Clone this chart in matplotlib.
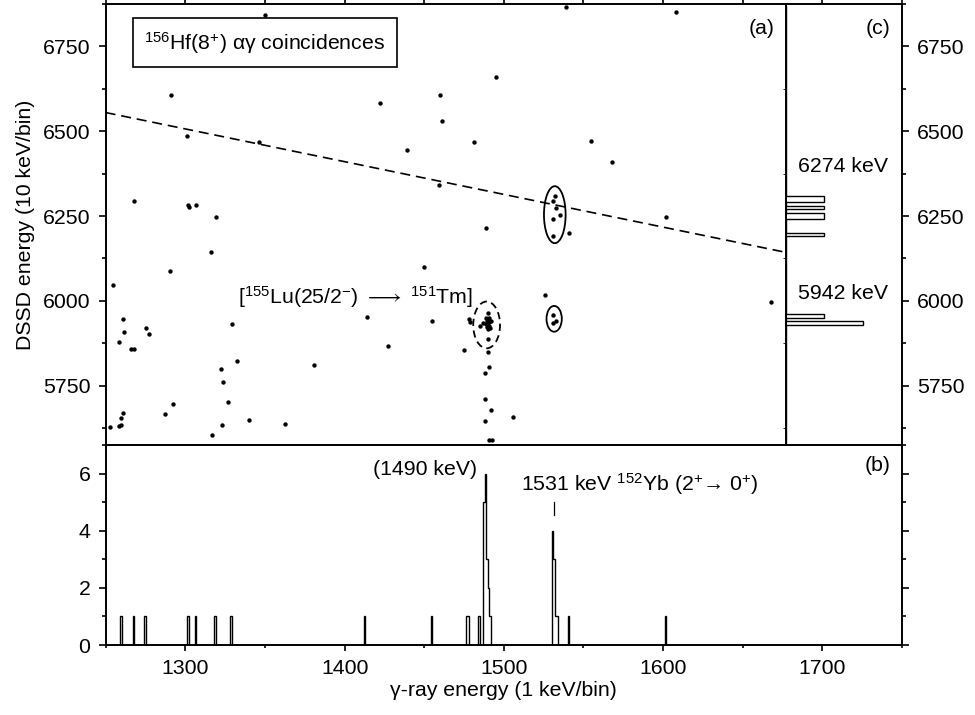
import numpy as np
import matplotlib
matplotlib.use("Agg")
import matplotlib.pyplot as plt
from matplotlib.patches import Ellipse
from matplotlib.ticker import MultipleLocator

plt.rcParams['font.family'] = ['Liberation Sans', 'DejaVu Sans']
plt.rcParams['mathtext.fontset'] = 'custom'
plt.rcParams['mathtext.rm'] = 'Liberation Sans'
plt.rcParams['mathtext.it'] = 'Liberation Sans:italic'
plt.rcParams['mathtext.bf'] = 'Liberation Sans:bold'
plt.rcParams['font.size'] = 15.3
plt.rcParams['axes.linewidth'] = 1.4

# alpha-gamma coincidences: gamma-ray energy (keV) vs DSSD energy (keV)
gamma_e = [1350, 1539, 1608, 1291, 1301, 1346, 1422, 1460, 1461, 1439,
           1481, 1459, 1495, 1555, 1568, 1268, 1301.5, 1302.5, 1307, 1319,
           1489, 1602,
           1532, 1531, 1533, 1535, 1531, 1531, 1541,
           1526, 1668, 1531, 1533, 1531,
           1450, 1455, 1414, 1427, 1475, 1478, 1478.5, 1485,
           1489, 1490, 1491, 1489.5, 1490.5, 1492, 1489, 1490, 1491, 1489.5,
           1491.5, 1490, 1487,
           1490, 1490, 1490, 1490.4, 1488.3, 1488, 1492, 1488, 1490.6, 1492.3,
           1505.5,
           1254.6, 1316, 1290.4, 1260.7, 1261.7, 1258.3, 1265.7, 1267.6, 1275, 1277,
           1329.5, 1332.4, 1322.6, 1323.8, 1326.6, 1381, 1292.4, 1287, 1340, 1362.7,
           1323, 1316.7, 1252.7, 1258.3, 1259.6, 1259.4, 1260.7]
dssd_e = [6844, 6865, 6851, 6607, 6486, 6469, 6582, 6607, 6529, 6445,
          6468, 6342, 6660, 6471, 6410, 6294, 6283, 6277, 6283, 6247,
          6216, 6247,
          6308, 6294, 6273, 6253, 6240, 6192, 6201,
          6017, 5998, 5958, 5940, 5934,
          6099, 5940, 5952, 5867, 5856, 5947, 5939, 5926,
          5950, 5945, 5948, 5940, 5938, 5942, 5932, 5930, 5925, 5922,
          5920, 5918, 5934,
          5964, 5887, 5848, 5805, 5786, 5710, 5679, 5645, 5589, 5589,
          5657,
          6046, 6143, 6089, 5947, 5909, 5878, 5858, 5858, 5919, 5902,
          5931, 5824, 5799, 5762, 5703, 5810, 5695, 5665, 5650, 5636,
          5633, 5605, 5627, 5630, 5633, 5656, 5670]

# (b) gamma-ray projection, 1 keV bins
b_bins = [1259, 1267, 1274, 1301, 1306, 1318, 1328, 1412, 1454, 1476, 1477,
          1484, 1487, 1488, 1489, 1490, 1491, 1530, 1531, 1532, 1533, 1540, 1601]
b_counts = [1, 1, 1, 1, 1, 1, 1, 1, 1, 1, 1,
            1, 5, 6, 3, 2, 1, 4, 3, 1, 1, 1, 1]

# (c) DSSD projection gated on 1531 keV, 10 keV bins
c_bins = [5930, 5950, 6190, 6240, 6250, 6270, 6290, 6300]
c_counts = [2, 1, 1, 1, 1, 1, 1, 1]

# dashed cut line
cut_x = [1250, 1677]
cut_y = [6555, 6143]

fig = plt.figure(figsize=(9.75, 7.15), dpi=100)
ax = fig.add_axes([0.1084, 0.3776, 0.8167, 0.6168])
axb = fig.add_axes([0.1084, 0.0979, 0.8167, 0.2797])
axc = fig.add_axes([0.8062, 0.3776, 0.1189, 0.6168], sharey=ax)

# --- (a) scatter ---
ax.scatter(gamma_e, dssd_e, s=10, c='k', linewidths=0, zorder=3)
ax.plot(cut_x, cut_y, color='k', lw=1.2, ls=(0, (6, 3.5)))
ax.add_patch(Ellipse((1532, 6254), 13.6, 168, fill=False, lw=1.3, ec='k'))
ax.add_patch(Ellipse((1531.6, 5947), 9.6, 76, fill=False, lw=1.3, ec='k'))
ax.add_patch(Ellipse((1489.2, 5929), 16.8, 138, fill=False, lw=1.3, ec='k',
                     ls=(0, (4, 2.5))))
ax.axvline(1677, color='k', lw=1.4)

ax.set_xlim(1250, 1750)
ax.set_ylim(5575, 6875)
ax.yaxis.set_major_locator(MultipleLocator(250))
ax.yaxis.set_minor_locator(MultipleLocator(125))
ax.xaxis.set_major_locator(MultipleLocator(100))
ax.xaxis.set_minor_locator(MultipleLocator(50))
ax.tick_params(axis='y', which='both', direction='out', left=True, right=True,
               labelleft=True, labelright=True, width=1.2)
ax.tick_params(axis='y', which='major', length=5, pad=6)
ax.tick_params(axis='y', which='minor', length=3)
ax.tick_params(axis='x', which='both', top=True, bottom=False, labelbottom=False,
               labeltop=False, length=3, width=1.2, direction='out')
ax.set_ylabel('DSSD energy (10 keV/bin)', labelpad=6)

ax.text(1350, 6761, r'$^{156}$Hf(8$^{+}$) αγ coincidences', ha='center', va='center',
        bbox=dict(boxstyle='square,pad=0.55', fc='white', ec='k', lw=1.2))
ax.text(1670, 6804, '(a)', ha='right', va='center')
ax.text(1743, 6804, '(c)', ha='right', va='center')
ax.text(1741, 6395, '6274 keV', ha='right', va='center')
ax.text(1741, 6023, '5942 keV', ha='right', va='center')
ax.text(1333, 6012, r'[$^{155}$Lu(25/2$^{-}$) $\longrightarrow$ $^{151}$Tm]',
        ha='left', va='center')

# --- (c) projection ---
c_edges = np.arange(5580, 6880, 10)
c_vals = np.zeros(len(c_edges) - 1)
for e, n in zip(c_bins, c_counts):
    c_vals[(e - 5580) // 10] = n
axc.stairs(c_vals, c_edges, orientation='horizontal', baseline=0,
           color='k', lw=1.0)
axc.set_xlim(0, 3.03)
axc.patch.set_alpha(0)
for s in axc.spines.values():
    s.set_visible(False)
axc.tick_params(left=False, right=False, top=False, bottom=False,
                labelleft=False, labelbottom=False, labelright=False)

# --- (b) gamma histogram ---
b_edges = np.arange(1250, 1751, 1)
b_vals = np.zeros(len(b_edges) - 1)
for e, n in zip(b_bins, b_counts):
    b_vals[e - 1250] = n
axb.stairs(b_vals, b_edges, color='k', lw=1.0)
axb.set_xlim(1250, 1750)
axb.set_ylim(0, 7)
axb.xaxis.set_major_locator(MultipleLocator(100))
axb.xaxis.set_minor_locator(MultipleLocator(50))
axb.yaxis.set_major_locator(MultipleLocator(2))
axb.yaxis.set_minor_locator(MultipleLocator(1))
axb.tick_params(axis='both', which='both', direction='out', width=1.2)
axb.tick_params(axis='y', which='both', left=True, right=True, labelright=False)
axb.tick_params(axis='y', which='major', length=5, pad=6)
axb.tick_params(axis='y', which='minor', length=3)
axb.tick_params(axis='x', which='major', length=4, pad=6)
axb.tick_params(axis='x', which='minor', length=2.5)
axb.tick_params(axis='x', top=False)
axb.set_xlabel('γ-ray energy (1 keV/bin)', labelpad=2)

axb.text(1483, 6.15, '(1490 keV)', ha='right', va='center')
axb.text(1511, 5.65, r'1531 keV $^{152}$Yb (2$^{+}$→ 0$^{+}$)', ha='left', va='center')
axb.plot([1531.5, 1531.5], [4.55, 5.0], color='k', lw=0.9)
axb.text(1743, 6.27, '(b)', ha='right', va='center')

fig.savefig('out.png', dpi=100)
